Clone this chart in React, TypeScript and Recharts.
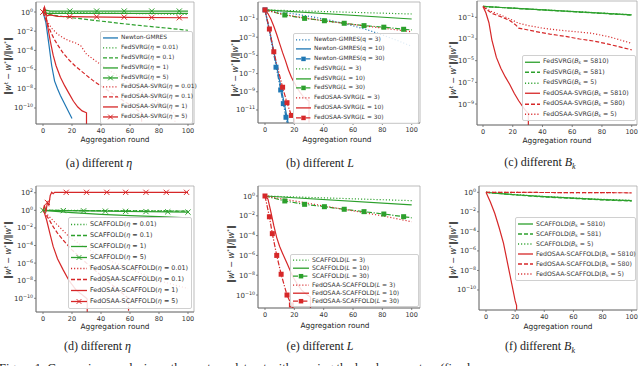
import React from 'react';
import { ComposedChart, Line, XAxis, YAxis, ReferenceArea, Legend } from 'recharts';

const GREEN = '#2ca02c';
const RED = '#d62728';
const BLUE = '#1f77b4';
const DOTTED = '1.1 2';
const DASHED = '4 2';
const DASHDOT = '5 1.6 1.2 1.6';

const X_TICKS = [0, 20, 40, 60, 80, 100];

// values are log10 of ||w^t - w*|| / ||w*||  (-14 = dropped below the axis floor)

// ---------- (a) different eta ----------
const A_NEWTON_X = [0, 2, 4, 6, 8, 10, 12, 14, 16, 18, 20];
const A_NEWTON_E = [0, -1.1, -3.3, -5.6, -7.2, -8.0, -8.7, -9.3, -9.9, -10.5, -11.1];
const A_SVRG001_X = [0, 100];
const A_SVRG001_E = [0, -0.25];
const A_SVRG01_X = [0, 2, 10, 20, 40, 60, 80, 100];
const A_SVRG01_E = [0, -0.2, -0.4, -0.6, -0.95, -1.3, -1.6, -1.9];
const A_SVRG1_X = [0, 2, 100];
const A_SVRG1_E = [0, -0.15, -0.15];
const A_SVRG5_X = [0, 2, 5, 100];
const A_SVRG5_E = [0, 0.2, 0.1, 0.1];
const A_SVRG5_MX = [0, 18.5, 37, 56, 75, 94];
const A_SVRG5_ME = [0, 0.1, 0.1, 0.1, 0.1, 0.1];
const A_OSAA001_X = [0, 3, 6, 10, 14, 18, 22, 26, 30, 40, 50, 60, 70, 80, 91, 91];
const A_OSAA001_E = [0, -1.0, -1.7, -2.3, -2.7, -3.0, -3.2, -3.5, -4.4, -5.5, -6.5, -7.5, -8.5, -9.5, -10.6, -14];
const A_OSAA01_X = [0, 2, 4, 6, 8, 10, 14, 18, 22, 26, 30, 35, 40, 50, 60, 68, 68];
const A_OSAA01_E = [0, -0.8, -1.6, -2.3, -2.9, -3.4, -4.3, -5.0, -5.6, -6.1, -6.6, -7.2, -7.7, -8.7, -9.7, -10.5, -14];
const A_OSAA1_X = [0, 1, 2, 3, 5, 7, 9, 12, 15, 18, 21, 24, 27, 30, 30];
const A_OSAA1_E = [0, 0.5, -0.3, -1.3, -3.0, -4.5, -5.6, -6.8, -7.7, -8.5, -9.3, -9.9, -10.3, -10.5, -14];
const A_OSAA5_X = [0, 1, 2, 3, 5, 10, 30, 60, 100];
const A_OSAA5_E = [0, 0.5, -0.2, -0.4, -0.3, -0.45, -0.5, -0.55, -0.6];
const A_OSAA5_MX = [0, 18.5, 37, 56, 75, 94];
const A_OSAA5_ME = [0, -0.48, -0.5, -0.53, -0.57, -0.6];

// ---------- (b) different L ----------
const B_NQ3_X = [0, 10, 20, 30, 40, 50, 60, 70, 80, 90, 100];
const B_NQ3_E = [0, -0.2, -0.45, -0.7, -1.0, -1.35, -1.75, -2.2, -2.75, -3.35, -4.0];
const B_NQ10_X = [0, 2, 4, 6, 8, 10, 12, 14, 16];
const B_NQ10_E = [0, -1.5, -3.0, -4.6, -6.2, -7.8, -9.4, -11.0, -12.6];
const B_NQ30_X = [0, 3, 6, 9, 12, 15, 16];
const B_NQ30_E = [0, -2.3, -4.9, -7.4, -9.9, -12.3, -13];
const B_NQ30_MX = [0, 7.5, 10.7, 12.5, 14.3];
const B_NQ30_ME = [0, -6.3, -8.8, -10.3, -11.8];
const B_SVRG3_X = [0, 100];
const B_SVRG3_E = [0, -0.45];
const B_SVRG10_X = [0, 100];
const B_SVRG10_E = [0, -1.0];
const B_SVRG30_X = [0, 13.5, 27, 40.5, 54, 67.5, 81, 94.5, 100];
const B_SVRG30_E = [0, -0.56, -0.93, -1.19, -1.47, -1.73, -1.9, -2.13, -2.2];
const B_SVRG30_MX = [13.5, 27, 40.5, 54, 67.5, 81, 94.5];
const B_SVRG30_ME = [-0.56, -0.93, -1.19, -1.47, -1.73, -1.9, -2.13];
const B_OSAA3_X = [0, 10, 20, 40, 60, 80, 100];
const B_OSAA3_E = [0, -0.4, -0.7, -1.2, -1.6, -2.0, -2.4];
const B_OSAA10_X = [0, 2, 4, 6, 8, 10, 12, 14, 16, 18, 20, 22, 24, 26, 28, 30, 30];
const B_OSAA10_E = [0, -0.4, -1.0, -1.8, -2.7, -3.7, -4.7, -5.6, -6.6, -7.4, -8.0, -8.6, -9.1, -9.5, -9.8, -10.0, -14];
const B_OSAA30_X = [0, 3, 6, 9, 12, 15, 18, 20, 20];
const B_OSAA30_E = [0, -2.1, -4.6, -6.6, -8.5, -10.2, -11.6, -12, -14];
const B_OSAA30_MX = [0, 3, 6, 12, 15, 18];
const B_OSAA30_ME = [0, -2.1, -4.6, -8.5, -10.2, -11.6];

// ---------- (c) different B_k ----------
const C_SVRG5810_X = [0, 100];
const C_SVRG5810_E = [0, -0.78];
const C_SVRG581_X = [0, 100];
const C_SVRG581_E = [0, -0.8];
const C_SVRG5_X = [0, 100];
const C_SVRG5_E = [0, -0.76];
const C_OSAA5810_X = [0, 2, 4, 6, 9, 12, 15, 18, 21, 24, 28, 30, 30.5, 30.5];
const C_OSAA5810_E = [0, -0.6, -1.5, -3.1, -4.7, -5.7, -6.5, -7.2, -8.0, -8.7, -9.5, -9.8, -9.9, -14];
const C_OSAA580_X = [0, 3, 6, 10, 14, 18, 22, 24, 28, 35, 45, 55, 65, 75, 85, 100];
const C_OSAA580_E = [0, -0.35, -0.63, -0.85, -1.05, -1.3, -1.7, -2.0, -2.1, -2.3, -2.55, -2.75, -3.0, -3.2, -3.5, -4.0];
const C_OSAA5_X = [0, 3, 6, 12, 18, 24, 30, 40, 50, 60, 73, 85, 100];
const C_OSAA5_E = [0, -0.25, -0.48, -0.8, -1.15, -1.55, -1.75, -2.0, -2.17, -2.3, -2.47, -2.8, -3.4];

// ---------- (d) different eta, SCAFFOLD ----------
const D_SC001_X = [0, 100];
const D_SC001_E = [0, -0.05];
const D_SC01_X = [0, 100];
const D_SC01_E = [0, -0.1];
const D_SC1_X = [0, 20, 40, 60, 80, 100];
const D_SC1_E = [0, -0.25, -0.45, -0.6, -0.72, -0.84];
const D_SC5_X = [0, 100];
const D_SC5_E = [0, -0.2];
const D_SC5_MX = [0, 14, 28, 43, 57, 71, 86, 100];
const D_SC5_ME = [0, -0.03, -0.06, -0.09, -0.11, -0.14, -0.17, -0.2];
const D_OSAA001_X = [0, 3, 6, 9, 12, 15, 18, 25, 35, 50, 65, 80, 100];
const D_OSAA001_E = [0, -0.5, -1.0, -1.5, -2.0, -2.5, -3.0, -3.8, -4.8, -6.0, -7.0, -8.0, -8.9];
const D_OSAA01_X = [0, 2, 4, 7, 10, 14, 20, 30, 40, 50, 59, 59];
const D_OSAA01_E = [0, -0.5, -1.0, -1.86, -2.6, -3.4, -4.5, -6.0, -7.4, -8.8, -10.0, -14];
const D_OSAA1_X = [0, 1, 2.5, 5, 7, 10, 14, 18, 23, 27, 30, 30.5, 30.5];
const D_OSAA1_E = [0, -0.3, -1.1, -2.8, -4.1, -5.5, -6.8, -8.0, -9.1, -9.6, -10, -10.1, -14];
const D_OSAA5_X = [0, 1, 2, 3, 4, 5, 6, 7, 8, 100];
const D_OSAA5_E = [0, 0.6, -0.2, 0.9, 0.6, 1.7, 2.05, 1.9, 2.05, 2.05];
const D_OSAA5_MX = [3, 16, 30, 44, 57, 71, 85, 99];
const D_OSAA5_ME = [0.9, 2.05, 2.05, 2.05, 2.05, 2.05, 2.05, 2.05];

// ---------- (e) different L, SCAFFOLD ----------
const E_SC3_X = [0, 100];
const E_SC3_E = [0, -0.47];
const E_SC10_X = [0, 100];
const E_SC10_E = [0, -0.9];
const E_SC30_X = [0, 13.5, 27, 40.5, 54, 67.5, 81, 94.5, 100];
const E_SC30_E = [0, -0.5, -0.84, -1.08, -1.34, -1.58, -1.82, -2.09, -2.2];
const E_SC30_MX = [13.5, 27, 40.5, 54, 67.5, 81, 94.5];
const E_SC30_ME = [-0.5, -0.84, -1.08, -1.34, -1.58, -1.82, -2.09];
const E_OSAA3_X = [0, 20, 40, 60, 80, 100];
const E_OSAA3_E = [0, -0.5, -1.0, -1.5, -2.0, -2.6];
const E_OSAA10_X = [0, 2, 4, 6, 8, 10, 12, 15, 19, 22, 25, 28, 31, 31];
const E_OSAA10_E = [0, -0.3, -1.6, -3.0, -4.2, -5.1, -5.8, -6.8, -8.15, -8.9, -9.5, -9.9, -10.2, -14];
const E_OSAA30_X = [0, 3, 5, 8, 11, 15, 18, 19, 19];
const E_OSAA30_E = [0, -2.1, -3.8, -6.0, -7.9, -10, -11, -11.3, -14];
const E_OSAA30_MX = [0, 3, 5, 8, 11, 15, 18];
const E_OSAA30_ME = [0, -2.1, -3.8, -6.0, -7.9, -10, -11];

// ---------- (f) different B_k, SCAFFOLD ----------
const F_SC5810_X = [0, 20, 40, 60, 80, 100];
const F_SC5810_E = [0, -0.25, -0.45, -0.6, -0.75, -0.86];
const F_SC581_X = [0, 20, 40, 60, 80, 100];
const F_SC581_E = [0, -0.27, -0.48, -0.63, -0.78, -0.9];
const F_SC5_X = [0, 20, 40, 60, 80, 100];
const F_SC5_E = [0, -0.23, -0.43, -0.58, -0.72, -0.82];
const F_OSAA5810_X = [0, 3, 6, 9, 12, 15, 18, 20, 21, 21];
const F_OSAA5810_E = [0, -1.0, -2.15, -3.6, -5.2, -7.4, -9.6, -11.1, -11.6, -14];
const F_OSAA580_X = [0, 100];
const F_OSAA580_E = [0, -0.05];
const F_OSAA5_X = [0, 100];
const F_OSAA5_E = [0, -0.05];

type Mark = 'x' | 'sq';
type Series = {
  name: string; xs: number[]; es: number[]; color: string; dash?: string;
  mark?: Mark; mx?: number[]; me?: number[];
};
type Leg = { x: number; y: number; w: number; row: number; font: number; sample: number; pad: number };
type Cfg = {
  id: string; box: [number, number, number, number]; xd: [number, number]; yd: [number, number];
  yt: number[]; series: Series[]; leg: Leg; ylab: [number, number]; xlab: [number, number];
  cap: React.ReactNode; capPos: [number, number];
};

const S = (name: string, xs: number[], es: number[], color: string, dash?: string,
  mark?: Mark, mx?: number[], me?: number[]): Series => ({ name, xs, es, color, dash, mark, mx, me });

const toPts = (xs: number[], es: number[]) => xs.map((x, i) => ({ x, y: Math.pow(10, es[i]) }));

const ML = 34, MB = 20, PT = 2, PR = 2;

function markShape(kind: Mark, color: string, cx: number, cy: number, key: any, s = 1) {
  if (kind === 'x') {
    const r = 2.6 * s;
    return (
      <g key={key}>
        <line x1={cx - r} y1={cy - r} x2={cx + r} y2={cy + r} stroke={color} strokeWidth={1} />
        <line x1={cx - r} y1={cy + r} x2={cx + r} y2={cy - r} stroke={color} strokeWidth={1} />
      </g>
    );
  }
  const h = 2.5 * s;
  return <rect key={key} x={cx - h} y={cy - h} width={2 * h} height={2 * h} fill={color} />;
}

const markDot = (kind: Mark, color: string) => (p: any) => {
  const { cx, cy, index } = p;
  if (cx == null || cy == null || isNaN(cx) || isNaN(cy)) return <g key={`n${index}`} />;
  return markShape(kind, color, cx, cy, `m${index}`);
};

function YTick(props: any) {
  const { x, y, payload } = props;
  const e = Math.round(Math.log10(payload.value));
  const sup = e < 0 ? `\u2212${-e}` : `${e}`;
  return (
    <text x={x} y={y} dy={2.5} textAnchor="end" fontSize={7} fill="#333" fontFamily="DejaVu Sans">
      <tspan>10</tspan>
      <tspan dy={-3} fontSize={4.8}>{sup}</tspan>
    </text>
  );
}

function Lbl({ t }: { t: string }) {
  const m = t.match(/^(.*\()(η|L|B_k|q)( = .*)$/);
  if (!m) return <>{t}</>;
  const sym = m[2] === 'B_k'
    ? <><i>B</i><span style={{ fontSize: '0.7em', position: 'relative', top: '0.3em' }}>k</span></>
    : m[2] === 'q' ? <>q</> : <i>{m[2]}</i>;
  return <>{m[1]}{sym}{m[3]}</>;
}

function LegendBox({ c }: { c: Cfg }) {
  const L = c.leg;
  return (
    <div style={{
      width: L.w, boxSizing: 'border-box', background: 'rgba(255,255,255,0.85)',
      border: '0.8px solid #d0d0d0', borderRadius: 2, padding: `${L.pad}px 2px`,
      fontFamily: 'DejaVu Sans', fontSize: L.font, color: '#333',
    }}>
      {c.series.map((s) => (
        <div key={s.name} style={{ height: L.row, display: 'flex', alignItems: 'center', whiteSpace: 'nowrap' }}>
          <svg width={L.sample} height={L.row} style={{ flex: 'none' }}>
            <line x1={0} y1={L.row / 2} x2={L.sample} y2={L.row / 2} stroke={s.color}
              strokeWidth={1.3} strokeDasharray={s.dash} />
            {s.mark ? markShape(s.mark, s.color, L.sample / 2, L.row / 2, 'k', 0.9) : null}
          </svg>
          <span style={{ marginLeft: 3, lineHeight: `${L.row}px` }}><Lbl t={s.name} /></span>
        </div>
      ))}
    </div>
  );
}

function Panel({ c }: { c: Cfg }) {
  const [x0, y0, x1, y1] = c.box;
  const left = x0 - ML, top = y0 - PT;
  const w = x1 - x0 + ML + PR, h = y1 - y0 + PT + MB;
  const yDom: [number, number] = [Math.pow(10, c.yd[0]), Math.pow(10, c.yd[1])];
  return (
    <>
      <div style={{ position: 'absolute', left, top, width: w, height: h }}>
        <ComposedChart width={w} height={h} margin={{ top: PT, right: PR, bottom: 0, left: 0 }}>
          <XAxis type="number" dataKey="x" domain={c.xd} allowDataOverflow ticks={X_TICKS} interval={0}
            height={MB} tickSize={2} tickMargin={2}
            tick={{ fontSize: 6.5, fill: '#333', fontFamily: 'DejaVu Sans' }}
            axisLine={{ stroke: '#666', strokeWidth: 0.8 }} tickLine={{ stroke: '#666', strokeWidth: 0.8 }} />
          <YAxis type="number" scale="log" domain={yDom} allowDataOverflow interval={0}
            ticks={c.yt.map((e) => Math.pow(10, e))} width={ML} tickSize={2} tickMargin={1}
            tick={<YTick />} axisLine={{ stroke: '#666', strokeWidth: 0.8 }}
            tickLine={{ stroke: '#666', strokeWidth: 0.8 }} />
          <ReferenceArea x1={c.xd[0]} x2={c.xd[1]} y1={yDom[0]} y2={yDom[1]} ifOverflow="visible"
            fill="none" fillOpacity={0} stroke="#aaa" strokeWidth={0.8} />
          {c.series.map((s) => (
            <Line key={s.name} data={toPts(s.xs, s.es)} dataKey="y" type="linear" stroke={s.color}
              strokeWidth={1.2} strokeDasharray={s.dash} dot={false} activeDot={false}
              isAnimationActive={false} legendType="none" />
          ))}
          {c.series.filter((s) => s.mark).map((s) => (
            <Line key={s.name + '-m'} data={toPts(s.mx || [], s.me || [])} dataKey="y" stroke="none"
              dot={markDot(s.mark as Mark, s.color)} activeDot={false}
              isAnimationActive={false} legendType="none" />
          ))}
          <Legend layout="vertical" align="center" verticalAlign="middle"
            wrapperStyle={{ left: c.leg.x - left, top: c.leg.y - top, width: c.leg.w }}
            content={() => <LegendBox c={c} />} />
        </ComposedChart>
      </div>
      <div style={{
        position: 'absolute', left: c.ylab[0] - 60, top: c.ylab[1] - 6, width: 120, height: 12,
        textAlign: 'center', transform: 'rotate(-90deg)', fontFamily: 'DejaVu Sans', fontSize: 8,
        lineHeight: '12px', color: '#222', whiteSpace: 'nowrap',
      }}>
        ‖<i>w</i><span style={{ fontSize: 5.5, position: 'relative', top: -3 }}>t</span> − <i>w</i>
        <span style={{ fontSize: 5.5, position: 'relative', top: -3 }}>*</span>‖/‖<i>w</i>
        <span style={{ fontSize: 5.5, position: 'relative', top: -3 }}>*</span>‖
      </div>
      <div style={{
        position: 'absolute', left: c.xlab[0] - 60, top: c.xlab[1] - 4, width: 120, textAlign: 'center',
        fontFamily: 'DejaVu Sans', fontSize: 7.4, lineHeight: '8px', color: '#222',
      }}>Aggregation round</div>
      <div style={{
        position: 'absolute', left: c.capPos[0] - 80, top: c.capPos[1] - 7, width: 160, textAlign: 'center',
        fontFamily: 'Liberation Serif', fontSize: 12, lineHeight: '14px', color: '#222', whiteSpace: 'nowrap',
      }}>{c.cap}</div>
    </>
  );
}

const Bk = <><i>B</i><sub style={{ fontSize: 8, lineHeight: 0 }}><i>k</i></sub></>;

const PANELS: Cfg[] = [
  {
    id: 'a', box: [36, 2, 194, 124], xd: [-4.83, 104.14], yd: [-11.667, 1.042], yt: [0, -2, -4, -6, -8, -10],
    series: [
      S('Newton-GMRES', A_NEWTON_X, A_NEWTON_E, BLUE),
      S('FedSVRG(η = 0.01)', A_SVRG001_X, A_SVRG001_E, GREEN, DOTTED),
      S('FedSVRG(η = 0.1)', A_SVRG01_X, A_SVRG01_E, GREEN, DASHED),
      S('FedSVRG(η = 1)', A_SVRG1_X, A_SVRG1_E, GREEN),
      S('FedSVRG(η = 5)', A_SVRG5_X, A_SVRG5_E, GREEN, undefined, 'x', A_SVRG5_MX, A_SVRG5_ME),
      S('FedOSAA-SVRG(η = 0.01)', A_OSAA001_X, A_OSAA001_E, RED, DOTTED),
      S('FedOSAA-SVRG(η = 0.1)', A_OSAA01_X, A_OSAA01_E, RED, DASHED),
      S('FedOSAA-SVRG(η = 1)', A_OSAA1_X, A_OSAA1_E, RED),
      S('FedOSAA-SVRG(η = 5)', A_OSAA5_X, A_OSAA5_E, RED, undefined, 'x', A_OSAA5_MX, A_OSAA5_ME),
    ],
    leg: { x: 100, y: 31, w: 93, row: 9.9, font: 5.9, sample: 15, pad: 1 },
    ylab: [8.5, 66], xlab: [115, 139.5], cap: <>(a) different <i>η</i></>, capPos: [99, 163],
  },
  {
    id: 'b', box: [258, 2, 420, 123], xd: [-4.77, 105.66], yd: [-12.43, 0.868], yt: [-1, -3, -5, -7, -9, -11],
    series: [
      S('Newton-GMRES(q = 3)', B_NQ3_X, B_NQ3_E, BLUE, DOTTED),
      S('Newton-GMRES(q = 10)', B_NQ10_X, B_NQ10_E, BLUE),
      S('Newton-GMRES(q = 30)', B_NQ30_X, B_NQ30_E, BLUE, DASHDOT, 'sq', B_NQ30_MX, B_NQ30_ME),
      S('FedSVRG(L = 3)', B_SVRG3_X, B_SVRG3_E, GREEN, DOTTED),
      S('FedSVRG(L = 10)', B_SVRG10_X, B_SVRG10_E, GREEN),
      S('FedSVRG(L = 30)', B_SVRG30_X, B_SVRG30_E, GREEN, DASHDOT, 'sq', B_SVRG30_MX, B_SVRG30_ME),
      S('FedOSAA-SVRG(L = 3)', B_OSAA3_X, B_OSAA3_E, RED, DOTTED),
      S('FedOSAA-SVRG(L = 10)', B_OSAA10_X, B_OSAA10_E, RED),
      S('FedOSAA-SVRG(L = 30)', B_OSAA30_X, B_OSAA30_E, RED, DASHDOT, 'sq', B_OSAA30_MX, B_OSAA30_ME),
    ],
    leg: { x: 293, y: 33, w: 126, row: 9.8, font: 5.9, sample: 15, pad: 0.5 },
    ylab: [236, 68], xlab: [337, 139.5], cap: <>(b) different <i>L</i></>, capPos: [320, 163],
  },
  {
    id: 'c', box: [477, 1, 637, 125], xd: [-4.03, 103.56], yd: [-10.935, 0.504], yt: [-1, -3, -5, -7, -9],
    series: [
      S('FedSVRG(B_k = 5810)', C_SVRG5810_X, C_SVRG5810_E, GREEN),
      S('FedSVRG(B_k = 581)', C_SVRG581_X, C_SVRG581_E, GREEN, DASHED),
      S('FedSVRG(B_k = 5)', C_SVRG5_X, C_SVRG5_E, GREEN, DOTTED),
      S('FedOSAA-SVRG(B_k = 5810)', C_OSAA5810_X, C_OSAA5810_E, RED),
      S('FedOSAA-SVRG(B_k = 580)', C_OSAA580_X, C_OSAA580_E, RED, DASHED),
      S('FedOSAA-SVRG(B_k = 5)', C_OSAA5_X, C_OSAA5_E, RED, DOTTED),
    ],
    leg: { x: 522, y: 55, w: 114, row: 10.5, font: 6.3, sample: 15, pad: 0.5 },
    ylab: [453.5, 70], xlab: [557, 140.5], cap: <>(c) different {Bk}</>, capPos: [540, 162],
  },
  {
    id: 'd', box: [36, 186, 194, 312], xd: [-4.83, 104.14], yd: [-11.56, 2.768], yt: [2, 0, -2, -4, -6, -8, -10],
    series: [
      S('SCAFFOLD(η = 0.01)', D_SC001_X, D_SC001_E, GREEN, DOTTED),
      S('SCAFFOLD(η = 0.1)', D_SC01_X, D_SC01_E, GREEN, DASHED),
      S('SCAFFOLD(η = 1)', D_SC1_X, D_SC1_E, GREEN),
      S('SCAFFOLD(η = 5)', D_SC5_X, D_SC5_E, GREEN, undefined, 'x', D_SC5_MX, D_SC5_ME),
      S('FedOSAA-SCAFFOLD(η = 0.01)', D_OSAA001_X, D_OSAA001_E, RED, DOTTED),
      S('FedOSAA-SCAFFOLD(η = 0.1)', D_OSAA01_X, D_OSAA01_E, RED, DASHED),
      S('FedOSAA-SCAFFOLD(η = 1)', D_OSAA1_X, D_OSAA1_E, RED),
      S('FedOSAA-SCAFFOLD(η = 5)', D_OSAA5_X, D_OSAA5_E, RED, undefined, 'x', D_OSAA5_MX, D_OSAA5_ME),
    ],
    leg: { x: 68, y: 217, w: 124, row: 11, font: 6.4, sample: 16, pad: 1 },
    ylab: [8.5, 250], xlab: [115, 326.5], cap: <>(d) different <i>η</i></>, capPos: [97.5, 346],
  },
  {
    id: 'e', box: [258, 186, 420, 308], xd: [-4.77, 105.66], yd: [-11.31, 1.01], yt: [0, -2, -4, -6, -8, -10],
    series: [
      S('SCAFFOLD(L = 3)', E_SC3_X, E_SC3_E, GREEN, DOTTED),
      S('SCAFFOLD(L = 10)', E_SC10_X, E_SC10_E, GREEN),
      S('SCAFFOLD(L = 30)', E_SC30_X, E_SC30_E, GREEN, DASHDOT, 'sq', E_SC30_MX, E_SC30_ME),
      S('FedOSAA-SCAFFOLD(L = 3)', E_OSAA3_X, E_OSAA3_E, RED, DOTTED),
      S('FedOSAA-SCAFFOLD(L = 10)', E_OSAA10_X, E_OSAA10_E, RED),
      S('FedOSAA-SCAFFOLD(L = 30)', E_OSAA30_X, E_OSAA30_E, RED, DASHDOT, 'sq', E_OSAA30_MX, E_OSAA30_ME),
    ],
    leg: { x: 290, y: 254, w: 129, row: 8.4, font: 6.1, sample: 16, pad: 0.5 },
    ylab: [232, 254], xlab: [335, 326], cap: <>(e) different <i>L</i></>, capPos: [320, 346],
  },
  {
    id: 'f', box: [479, 186, 637, 310], xd: [-4.8, 103.64], yd: [-12.05, 0.645], yt: [0, -2, -4, -6, -8, -10],
    series: [
      S('SCAFFOLD(B_k = 5810)', F_SC5810_X, F_SC5810_E, GREEN),
      S('SCAFFOLD(B_k = 581)', F_SC581_X, F_SC581_E, GREEN, DASHED),
      S('SCAFFOLD(B_k = 5)', F_SC5_X, F_SC5_E, GREEN, DOTTED),
      S('FedOSAA-SCAFFOLD(B_k = 5810)', F_OSAA5810_X, F_OSAA5810_E, RED),
      S('FedOSAA-SCAFFOLD(B_k = 580)', F_OSAA580_X, F_OSAA580_E, RED, DASHED),
      S('FedOSAA-SCAFFOLD(B_k = 5)', F_OSAA5_X, F_OSAA5_E, RED, DOTTED),
    ],
    leg: { x: 515, y: 217, w: 121, row: 10, font: 6.2, sample: 15, pad: 1 },
    ylab: [454, 250], xlab: [558, 326.5], cap: <>(f) different {Bk}</>, capPos: [540, 346],
  },
];

export default function App() {
  return (
    <div style={{ position: 'absolute', left: 0, top: 0, width: 640, height: 366, overflow: 'hidden', background: '#fff' }}>
      {PANELS.map((c) => <Panel key={c.id} c={c} />)}
      <div style={{
        position: 'absolute', left: -1, top: 361, width: 700, fontFamily: 'Liberation Serif', fontSize: 12.5,
        lineHeight: '14px', color: '#222', whiteSpace: 'nowrap',
      }}>
        Figure 1: Comparison analysis on the covtype dataset with varying the local parameters (fixed
      </div>
    </div>
  );
}
